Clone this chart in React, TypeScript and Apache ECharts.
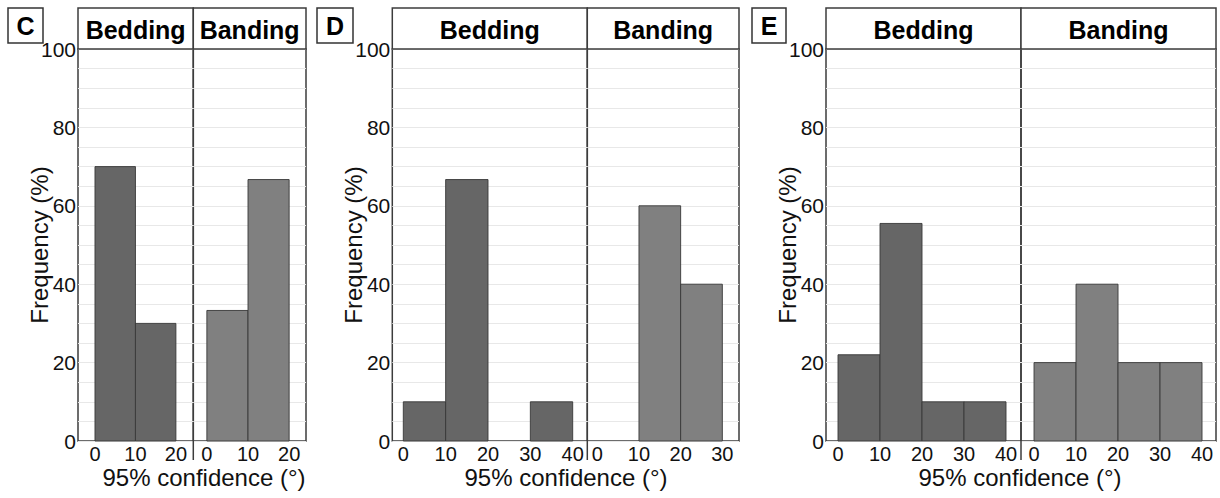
import React, { useEffect, useRef } from "react";
import * as echarts from "echarts";

// ---------- data ----------
const panelLetters = ["C", "D", "E"];
const facetNames = ["Bedding", "Banding"];
const xTitle = "95% confidence (°)";
const yTitle = "Frequency (%)";
const yTickStep = 20;
const binWidth = 10;

const cBeddingBins = [0, 10];
const cBeddingValues = [70, 30];
const cBandingBins = [0, 10];
const cBandingValues = [33.3, 66.7];

const dBeddingBins = [0, 10, 20, 30];
const dBeddingValues = [10, 66.7, 0, 10];
const dBandingBins = [0, 10, 20];
const dBandingValues = [0, 60, 40];

const eBeddingBins = [0, 10, 20, 30];
const eBeddingValues = [22, 55.5, 10, 10];
const eBandingBins = [0, 10, 20, 30];
const eBandingValues = [20, 40, 20, 20];

const cXTicks = [0, 10, 20];
const dBeddingXTicks = [0, 10, 20, 30, 40];
const dBandingXTicks = [0, 10, 20, 30];
const eXTicks = [0, 10, 20, 30, 40];

// ---------- layout / style ----------
const FONT = "'Liberation Sans', Arial, sans-serif";
const TOP = 49;
const BOTTOM = 441;
const STRIP_TOP = 8;
const BEDDING_FILL = "#666666";
const BANDING_FILL = "#808080";
const BORDER = "#3c3c3c";

type Facet = {
  left: number;
  right: number;
  xmin: number;
  xmax: number;
  bins: number[];
  values: number[];
  ticks: number[];
  fill: string;
  showY: boolean;
  name: string;
};

const facets: Facet[] = [
  { left: 78, right: 193.3, xmin: -4.2, xmax: 24.3, bins: cBeddingBins, values: cBeddingValues, ticks: cXTicks, fill: BEDDING_FILL, showY: true, name: facetNames[0] },
  { left: 193.3, right: 306, xmin: -3.3, xmax: 24.1, bins: cBandingBins, values: cBandingValues, ticks: cXTicks, fill: BANDING_FILL, showY: false, name: facetNames[1] },
  { left: 392.3, right: 587.3, xmin: -2.6, xmax: 43.45, bins: dBeddingBins, values: dBeddingValues, ticks: dBeddingXTicks, fill: BEDDING_FILL, showY: true, name: facetNames[0] },
  { left: 587.3, right: 739, xmin: -2.4, xmax: 34.0, bins: dBandingBins, values: dBandingValues, ticks: dBandingXTicks, fill: BANDING_FILL, showY: false, name: facetNames[1] },
  { left: 826, right: 1021, xmin: -2.86, xmax: 43.57, bins: eBeddingBins, values: eBeddingValues, ticks: eXTicks, fill: BEDDING_FILL, showY: true, name: facetNames[0] },
  { left: 1021, right: 1216, xmin: -3.1, xmax: 43.33, bins: eBandingBins, values: eBandingValues, ticks: eXTicks, fill: BANDING_FILL, showY: false, name: facetNames[1] },
];

const letterBoxes = [
  { x: 8, w: 35 },
  { x: 317, w: 36 },
  { x: 752, w: 34 },
];
const xTitleCenters = [204, 566, 1020];

export default function App() {
  const ref = useRef<HTMLDivElement>(null);

  useEffect(() => {
    if (!ref.current) return;
    const chart = echarts.init(ref.current, null, { renderer: "svg" });

    const grids = facets.map((f) => ({
      left: f.left,
      top: TOP,
      width: f.right - f.left,
      height: BOTTOM - TOP,
      show: true,
      borderColor: BORDER,
      borderWidth: 1.5,
      backgroundColor: "transparent",
      containLabel: false,
    }));

    const xAxes = facets.map((f, i) => ({
      type: "value",
      gridIndex: i,
      min: f.xmin,
      max: f.xmax,
      axisLine: { show: false },
      axisTick: { show: false },
      splitLine: { show: false },
      axisLabel: {
        customValues: f.ticks,
        margin: 4,
        fontSize: 20,
        lineHeight: 18,
        fontFamily: FONT,
        color: "#111",
      },
    }));

    const yAxes = facets.map((f, i) => ({
      type: "value",
      gridIndex: i,
      min: 0,
      max: 100,
      interval: 5,
      name: f.showY ? yTitle : "",
      nameLocation: "middle",
      nameRotate: 90,
      nameGap: 27,
      nameMoveOverlap: false,
      nameTextStyle: { fontSize: 24, lineHeight: 24, fontFamily: FONT, color: "#111" },
      axisLine: { show: false },
      axisTick: { show: false },
      splitLine: { show: true, lineStyle: { color: "#e8e8e8", width: 1 } },
      axisLabel: {
        show: f.showY,
        margin: 2,
        fontSize: 21,
        fontFamily: FONT,
        color: "#111",
        padding: [7, 0, 0, 0],
        formatter: (v: number) => (v % yTickStep === 0 ? String(v) : ""),
      },
    }));

    const series = facets.map((f, i) => ({
      type: "custom",
      xAxisIndex: i,
      yAxisIndex: i,
      data: f.bins.map((b, j) => [b, b + binWidth, f.values[j]]),
      encode: { x: [0, 1], y: 2 },
      renderItem: (params: any, api: any) => {
        const x0 = api.value(0);
        const x1 = api.value(1);
        const y = api.value(2);
        if (!y) return { type: "group", children: [] };
        const p0 = api.coord([x0, y]);
        const p1 = api.coord([x1, 0]);
        return {
          type: "rect",
          shape: { x: p0[0], y: p0[1], width: p1[0] - p0[0], height: p1[1] - p0[1] },
          style: { fill: f.fill, stroke: "#383838", lineWidth: 0.9 },
        };
      },
    }));

    const graphics: any[] = [];
    facets.forEach((f) => {
      graphics.push({
        type: "rect",
        shape: { x: f.left, y: STRIP_TOP, width: f.right - f.left, height: TOP - STRIP_TOP },
        style: { fill: "#fff", stroke: BORDER, lineWidth: 1.5 },
        z: 5,
      });
      graphics.push({
        type: "text",
        x: (f.left + f.right) / 2,
        y: (STRIP_TOP + TOP) / 2 + 1,
        style: {
          text: f.name,
          fontSize: 25,
          fontWeight: "bold",
          fontFamily: FONT,
          fill: "#000",
          align: "center",
          verticalAlign: "middle",
        },
        z: 6,
      });
    });
    // divider extension below axis
    [1, 3, 5].forEach((i) => {
      const x = facets[i].left;
      graphics.push({
        type: "line",
        shape: { x1: x, y1: BOTTOM, x2: x, y2: 460 },
        style: { stroke: BORDER, lineWidth: 1.5 },
        z: 5,
      });
    });
    letterBoxes.forEach((b, i) => {
      graphics.push({
        type: "rect",
        shape: { x: b.x, y: STRIP_TOP, width: b.w, height: 35 },
        style: { fill: "#fff", stroke: "#333", lineWidth: 1.5 },
        z: 5,
      });
      graphics.push({
        type: "text",
        x: b.x + b.w / 2,
        y: STRIP_TOP + 18,
        style: {
          text: panelLetters[i],
          fontSize: 25,
          fontWeight: "bold",
          fontFamily: FONT,
          fill: "#000",
          align: "center",
          verticalAlign: "middle",
        },
        z: 6,
      });
    });
    xTitleCenters.forEach((cx) => {
      graphics.push({
        type: "text",
        x: cx,
        y: 477,
        style: {
          text: xTitle,
          fontSize: 24,
          lineHeight: 24,
          fontFamily: FONT,
          fill: "#111",
          align: "center",
          verticalAlign: "middle",
        },
        z: 6,
      });
    });

    chart.setOption({
      animation: false,
      backgroundColor: "#fff",
      grid: grids,
      xAxis: xAxes,
      yAxis: yAxes,
      series,
      graphic: graphics,
    } as any);

    return () => chart.dispose();
  }, []);

  return (
    <div
      ref={ref}
      style={{ position: "absolute", left: 0, top: 0, width: 1220, height: 498, background: "#fff" }}
    />
  );
}
